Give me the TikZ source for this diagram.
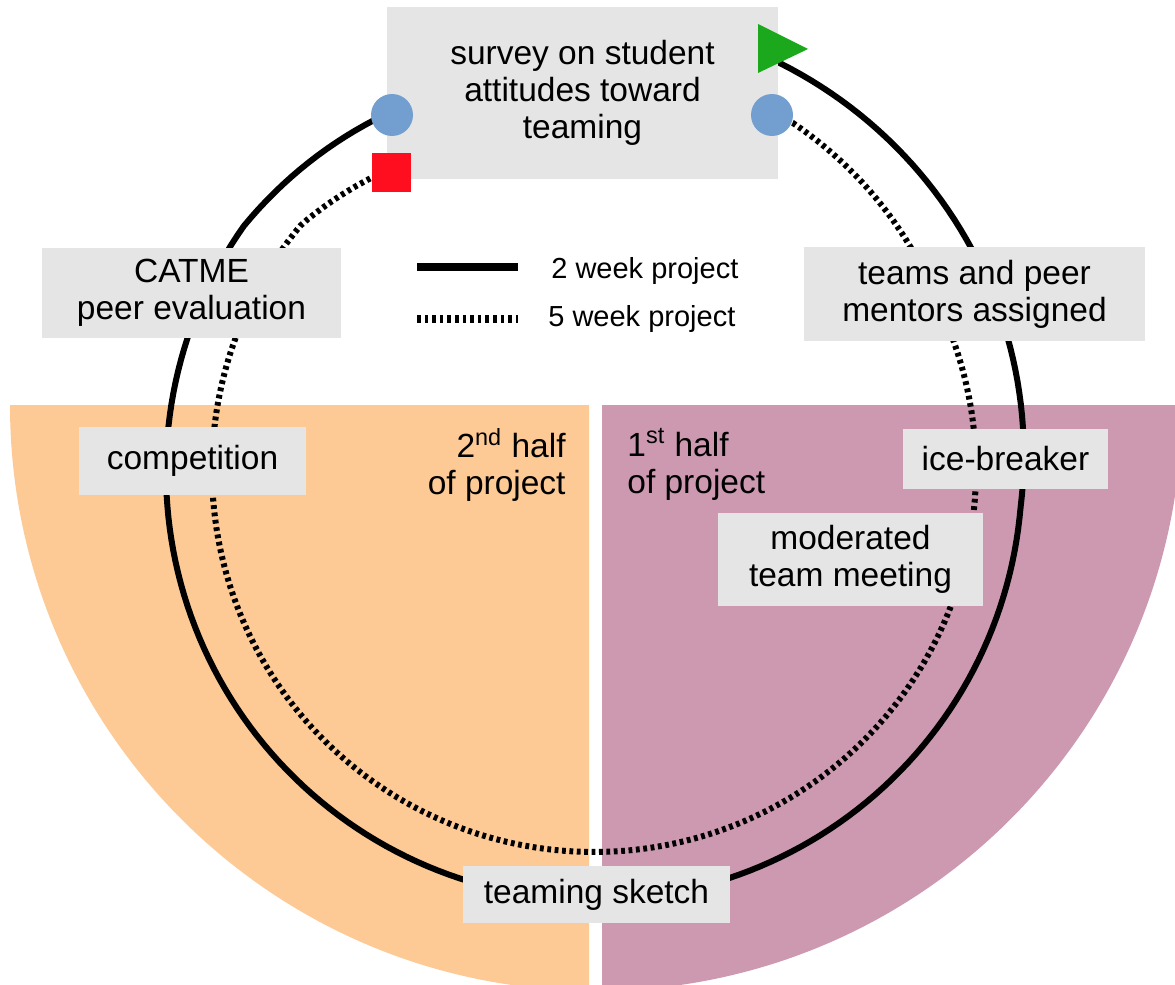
\documentclass[tikz,border=0pt]{standalone}
\usepackage{fontspec}
\setmainfont{Liberation Sans}
\usetikzlibrary{calc}
\pgfdeclarelayer{background}
\pgfsetlayers{background,main}
\definecolor{peach}{RGB}{253,202,150}
\definecolor{mauve}{RGB}{204,153,177}
\definecolor{boxgray}{RGB}{229,229,229}
\definecolor{dotblue}{RGB}{114,159,207}
\definecolor{sqred}{RGB}{255,14,31}
\definecolor{trigreen}{RGB}{28,168,28}
\begin{document}
\begin{tikzpicture}[x=0.5pt,y=-0.5pt,
  txt/.style={font=\fontsize{16.75}{18.5}\selectfont, align=center},
  box/.style={txt, fill=boxgray, inner sep=0pt},
  twoweek/.style={line width=3pt},
  fiveweek/.style={line width=3pt, dash pattern=on 1.9pt off 1.8pt},
  legtxt/.style={font=\fontsize{14.5}{17}\selectfont, anchor=base west, inner sep=0pt},
  dotb/.style={circle, fill=dotblue, minimum size=21pt, inner sep=0pt},
  sqmark/.style={rectangle, fill=sqred, minimum size=19.5pt, inner sep=0pt},
]
\useasboundingbox (0,0) rectangle (1175,985);

% boxes
\node[box, minimum width=195.5pt, minimum height=86pt] (survey) at (582.5,93) {survey on student\\attitudes toward\\teaming};
\node[box, minimum width=149.5pt, minimum height=45pt] (catme) at (191.5,293) {CATME\\peer evaluation};
\node[box, minimum width=170.5pt, minimum height=47pt] (teams) at (974.5,294) {teams and peer\\mentors assigned};
\node[box, minimum width=113.5pt, minimum height=34pt] (comp) at (192.5,461) {competition};
\node[box, minimum width=102.5pt, minimum height=30pt] (ice) at (1005.5,459) {ice-breaker};
\node[box, minimum width=132.5pt, minimum height=46.5pt] (mod) at (850.5,559.5) {moderated\\team meeting};
\node[box, minimum width=133.5pt, minimum height=28.5pt] (sketch) at (596.5,894.5) {teaming sketch};

% half labels
\node[txt, align=right, anchor=north east, inner sep=0pt] (second) at (566,428) {2\textsuperscript{nd} half\\of project};
\node[txt, align=left, anchor=north west, inner sep=0pt] (first) at (627,428) {1\textsuperscript{st} half\\of project};

% legend
\coordinate (la) at (417,267);
\coordinate (lb) at (518,267);
\coordinate (lc) at (417,319);
\coordinate (ld) at (518,319);
\draw[line width=4pt] (la) -- (lb);
\draw[line width=3.6pt, dash pattern=on 1.8pt off 2pt] (lc) -- (ld);
\node[legtxt] (leg1) at (551,278) {2 week project};
\node[legtxt] (leg2) at (548,326) {5 week project};

% markers
\node[dotb] (bl) at (392,115) {};
\node[dotb] (br) at (772,115) {};
\node[sqmark] (rs) at (391.5,172.5) {};
\coordinate (gt) at (775,49);
\fill[trigreen] ($(gt)+(-17,-25)$) -- ($(gt)+(33,0)$) -- ($(gt)+(-17,24)$) -- cycle;

\begin{pgfonlayer}{background}
\begin{scope}
\clip (0,405) rectangle (589,990);
\fill[peach] (596,405) circle[radius=586];
\end{scope}
\begin{scope}
\clip (602,405) rectangle (1175,990);
\fill[mauve] (596,405) circle[radius=586];
\end{scope}
% 2 week project cycle
\draw[twoweek] (bl.center) -- plot[domain=122:425.5, samples=200, variable=\t]
  ({594+(428-max(0,145-\t)*13/23+max(0,\t-355)*0.3)*cos(\t)},
   {472-(428-max(0,145-\t)*13/23+max(0,\t-355)*0.3)*sin(\t)}) -- (gt);
% 5 week project cycle
\draw[fiveweek] (rs.center) -- plot[domain=127:420.2, samples=200, variable=\t]
  ({594+(382-max(0,140-\t)*15/13+max(0,\t-385)*18/35.2)*cos(\t)},
   {470-(382-max(0,140-\t)*15/13+max(0,\t-385)*18/35.2)*sin(\t)}) -- (br.center);
\end{pgfonlayer}
\end{tikzpicture}
\end{document}
